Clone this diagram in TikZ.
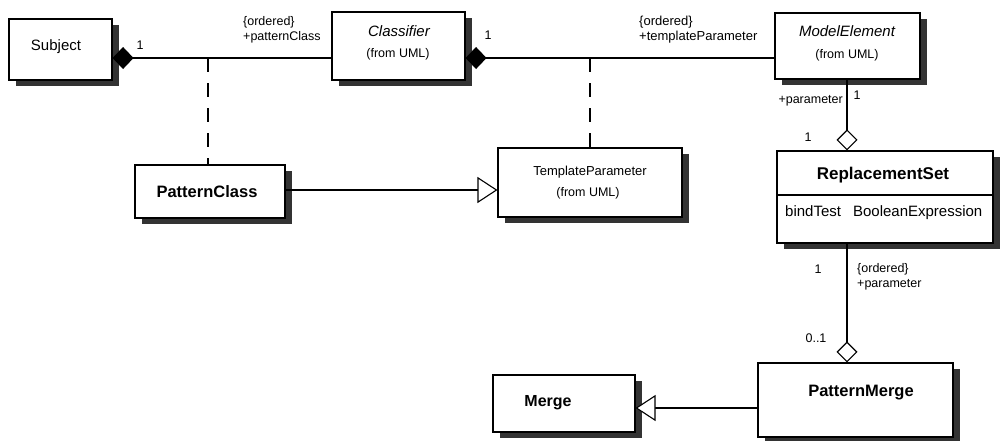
\documentclass[tikz,border=0pt]{standalone}
\usepackage{fontspec}
\setmainfont{Liberation Sans}
\usetikzlibrary{arrows.meta,shadows}
\begin{document}
\begin{tikzpicture}[x=1pt,y=-1pt,
  umlbox/.style={draw, line width=1.1pt, fill=white, inner sep=0pt,
     general shadow={fill=black!80, shadow xshift=7pt, shadow yshift=-6pt}},
  lbl/.style={font=\fontsize{12.5}{15}\selectfont, inner sep=0pt},
  nm/.style={font=\fontsize{14.5}{16}\selectfont, inner sep=0pt},
  sm/.style={font=\fontsize{12.5}{15}\selectfont, inner sep=0pt},
  bnm/.style={font=\fontsize{16.5}{18}\selectfont\bfseries, inner sep=0pt},
  conn/.style={line width=1.1pt},
  comp/.style={conn, {Diamond[fill=black,length=21pt,width=22pt]}-},
  aggr/.style={conn, -{Diamond[open,fill=white,length=21pt,width=21pt]}},
  gen/.style={conn, -{Triangle[open,fill=white,length=20pt,width=26pt]}},
  dep/.style={conn, dash pattern=on 14pt off 11pt},
]
\useasboundingbox (0,0) rectangle (1000,440);

% boxes
\node[umlbox, minimum width=103pt, minimum height=61pt] (subj) at (60.5,49.5) {};
\node[nm, font=\fontsize{15}{16}\selectfont] (subjT) at (56,47) {Subject};

\node[umlbox, minimum width=133pt, minimum height=68pt] (cls) at (398.5,46) {};
\node[nm, font=\fontsize{15}{16}\selectfont\itshape] (clsT) at (399,31) {Classifier};
\node[sm] (clsU) at (398,54) {(from UML)};

\node[umlbox, minimum width=145pt, minimum height=66pt] (me) at (847.5,46) {};
\node[nm, font=\fontsize{15}{16}\selectfont\itshape] (meT) at (847,31) {ModelElement};
\node[sm] (meU) at (847,55) {(from UML)};

\node[umlbox, minimum width=150pt, minimum height=53pt] (pc) at (210,191.5) {};
\node[bnm] (pcT) at (207,192) {PatternClass};

\node[umlbox, minimum width=184pt, minimum height=69pt] (tp) at (590,182.5) {};
\node[font=\fontsize{13}{15}\selectfont, inner sep=0pt] (tpT) at (590,172) {TemplateParameter};
\node[font=\fontsize{12.5}{14}\selectfont, inner sep=0pt] (tpU) at (588,193) {(from UML)};

\node[umlbox, minimum width=216pt, minimum height=92pt] (rs) at (885,197) {};
\coordinate (ydiv) at (0,195);
\draw[line width=1.1pt] (rs.west |- ydiv) -- (rs.east |- ydiv);
\node[bnm, font=\fontsize{17}{18}\selectfont\bfseries] (rsT) at (883,175) {ReplacementSet};
\node[nm, font=\fontsize{15}{16}\selectfont, anchor=west] (rsA) at (785,213) {bindTest\hspace{12pt}BooleanExpression};

\node[umlbox, minimum width=195pt, minimum height=74pt] (pm) at (855.5,400) {};
\node[bnm] (pmT) at (861,393) {PatternMerge};

\node[umlbox, minimum width=142pt, minimum height=57pt] (mg) at (564,403.5) {};
\node[bnm, font=\fontsize{16}{18}\selectfont\bfseries] (mgT) at (548,403) {Merge};

% helper coordinates
\coordinate (yA) at (0,58);
\coordinate (d1) at (208,58);
\coordinate (d2) at (590,58);
\coordinate (yG1) at (0,190);
\coordinate (yG2) at (0,408);
\coordinate (vx) at (847,0);

% connectors
\draw[comp] (subj.east |- yA) -- (cls.west |- yA);
\draw[comp] (cls.east |- yA) -- (me.west |- yA);
\draw[dep] (d1) -- (d1 |- pc.north);
\draw[dep] (d2) -- (tp.north);
\draw[gen] (pc.east |- yG1) -- (tp.west |- yG1);
\draw[aggr] (me.south -| vx) -- (rs.north -| vx);
\draw[aggr] (rs.south -| vx) -- (pm.north -| vx);
\draw[gen] (pm.west |- yG2) -- (mg.east |- yG2);

% labels
\node[lbl] (m1) at (140,45) {1};
\node[lbl, anchor=west, align=left] (r1) at (243,30) {\{ordered\}\\+patternClass};
\node[lbl] (m2) at (488,35) {1};
\node[lbl, font=\fontsize{13}{15}\selectfont, anchor=west, align=left] (r2) at (639,30) {\{ordered\}\\+templateParameter};
\node[lbl, anchor=east] (r3) at (843,101) {+parameter};
\node[lbl] (m3) at (857,95) {1};
\node[lbl] (m4) at (808,137) {1};
\node[lbl] (m5) at (818,269) {1};
\node[lbl, anchor=west, align=left] (r4) at (857,276.5) {\{ordered\}\\+parameter};
\node[lbl] (m6) at (816,338) {0..1};
\end{tikzpicture}
\end{document}
